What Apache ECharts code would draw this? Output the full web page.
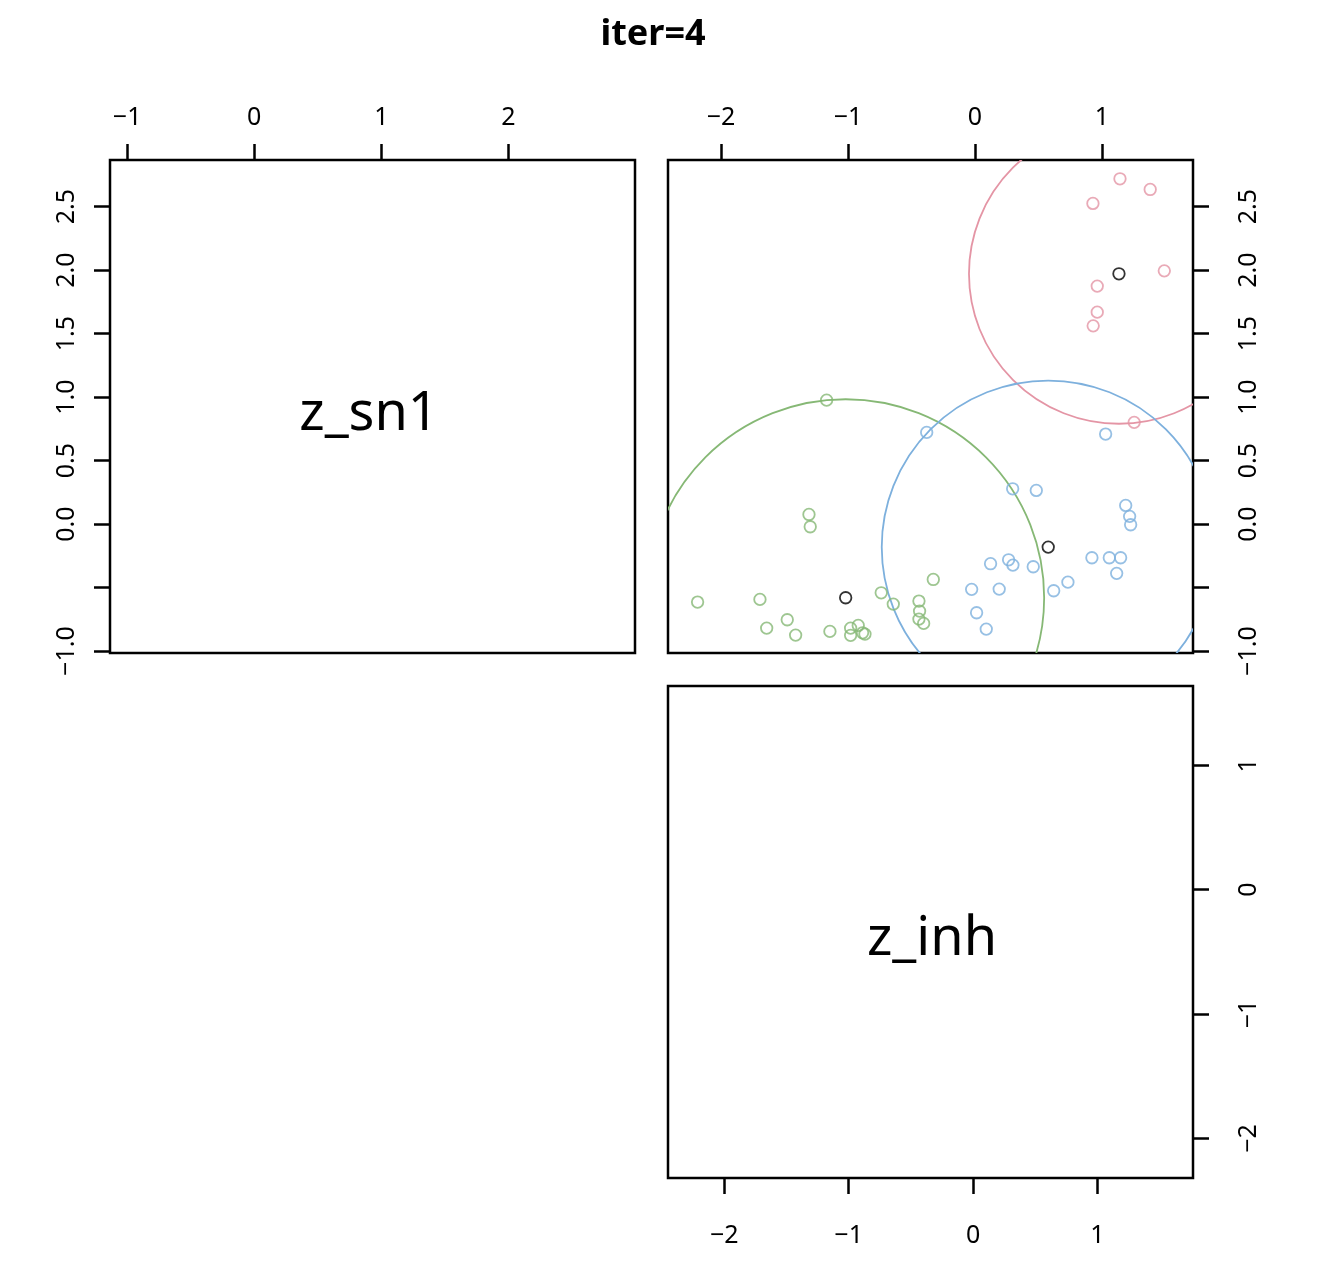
<!DOCTYPE html>
<html><head><meta charset="utf-8">
<script src="https://cdn.jsdelivr.net/npm/echarts@6/dist/echarts.min.js"></script>
<style>html,body{margin:0;padding:0;background:#fff}#c{width:1326px;height:1273px}</style>
</head><body><div id="c"></div>
<script>
const chartTitle = 'iter=4';
const varNames = ['z_sn1', 'z_inh'];

// cluster colours (pink, green, blue) and centre colour
const clusterColors = ['#E495A5', '#86B875', '#7DB0DD'];
const centerColor = '#000000';

// points: x = z_inh, y = z_sn1
const pinkX = [0.929, 1.142, 1.380, 1.491, 0.963, 0.963, 0.931, 1.254];
const pinkY = [2.525, 2.719, 2.635, 1.994, 1.874, 1.669, 1.561, 0.801];

const greenX = [-1.168, -1.307, -1.297, -2.184, -1.693, -1.478, -1.640, -1.412, -1.142, -0.979, -0.919, -0.979, -0.885, -0.866, -0.738, -0.643, -0.328, -0.441, -0.436, -0.441, -0.404];
const greenY = [0.976, 0.076, -0.021, -0.614, -0.593, -0.753, -0.819, -0.874, -0.845, -0.819, -0.798, -0.876, -0.856, -0.866, -0.541, -0.630, -0.436, -0.606, -0.685, -0.748, -0.782];

const blueX = [-0.380, 1.029, 0.297, 0.483, 1.187, 1.218, 1.226, 0.921, 1.058, 1.147, 1.116, 0.123, 0.265, 0.299, 0.459, -0.026, 0.191, 0.620, 0.732, 0.013, 0.089];
const blueY = [0.722, 0.709, 0.278, 0.265, 0.147, 0.061, -0.005, -0.265, -0.265, -0.265, -0.388, -0.312, -0.281, -0.323, -0.336, -0.514, -0.512, -0.525, -0.457, -0.698, -0.827];

// cluster centres (pink, green, blue) and circle radii
const centerX = [1.134, -1.018, 0.577];
const centerY = [1.971, -0.580, -0.181];
const circleR = [1.181, 1.563, 1.311];

// tick values and labels
const sn1XTicks = [-1, 0, 1, 2];
const sn1XLabels = ['\u22121', '0', '1', '2'];
const sn1YTicks = [-1.0, -0.5, 0.0, 0.5, 1.0, 1.5, 2.0, 2.5];
const sn1YLabels = ['\u22121.0', '', '0.0', '0.5', '1.0', '1.5', '2.0', '2.5'];
const inhTicks = [-2, -1, 0, 1];
const inhLabels = ['\u22122', '\u22121', '0', '1'];

const FONT = 'Noto Sans';
function fmt(ticks, labels) {
  return function (v) {
    for (let i = 0; i < ticks.length; i++) if (Math.abs(ticks[i] - v) < 1e-6) return labels[i];
    return '';
  };
}
function axisCommon(ticks, labels, margin, rotate) {
  return {
    type: 'value',
    axisLine: { show: false, onZero: false },
    splitLine: { show: false },
    axisTick: { show: true, inside: false, length: 16, customValues: ticks, lineStyle: { color: '#000', width: 2.5 } },
    axisLabel: { show: true, customValues: ticks, formatter: fmt(ticks, labels), fontSize: 25, color: '#000', fontFamily: FONT, margin: margin, rotate: rotate || 0 }
  };
}

const chart = echarts.init(document.getElementById('c'), null, { renderer: 'canvas' });

const gridBase = { show: true, borderColor: '#000', borderWidth: 2.5, backgroundColor: 'transparent', containLabel: false, outerBoundsMode: 'none' };

const pair = (xs, ys) => xs.map((x, i) => [x, ys[i]]);

function scatter(xs, ys, color) {
  return {
    type: 'scatter', xAxisIndex: 1, yAxisIndex: 1,
    data: pair(xs, ys), symbol: 'circle', symbolSize: 11.5,
    itemStyle: { color: 'rgba(0,0,0,0)', borderColor: color, borderWidth: 1.8 },
    emphasis: { disabled: true }, silent: true, z: 3
  };
}

const option = {
  animation: false,
  backgroundColor: '#fff',
  grid: [
    Object.assign({ left: 110, top: 160, width: 525, height: 493 }, gridBase),
    Object.assign({ left: 668, top: 160, width: 525, height: 493 }, gridBase),
    Object.assign({ left: 668, top: 686, width: 525, height: 492 }, gridBase)
  ],
  xAxis: [
    Object.assign(axisCommon(sn1XTicks, sn1XLabels, 30), { gridIndex: 0, position: 'top', min: -1.135, max: 2.996 }),
    Object.assign(axisCommon(inhTicks, inhLabels, 30), { gridIndex: 1, position: 'top', min: -2.417, max: 1.717 }),
    Object.assign(axisCommon(inhTicks, inhLabels, 45), { gridIndex: 2, position: 'bottom', min: -2.452, max: 1.768 })
  ],
  yAxis: [
    Object.assign(axisCommon(sn1YTicks, sn1YLabels, 31, 90), { gridIndex: 0, position: 'left', min: -1.015, max: 2.867 }),
    Object.assign(axisCommon(sn1YTicks, sn1YLabels, 43, 90), { gridIndex: 1, position: 'right', min: -1.015, max: 2.867 }),
    Object.assign(axisCommon(inhTicks, inhLabels, 43, 90), { gridIndex: 2, position: 'right', min: -2.318, max: 1.637 })
  ],
  graphic: [
    { type: 'text', x: 653, y: 35, style: { text: chartTitle, font: 'bold 36px "Noto Sans"', fill: '#000', textAlign: 'center', textVerticalAlign: 'middle' } },
    { type: 'text', x: 369, y: 415, style: { text: varNames[0], font: '54px "Noto Sans"', fill: '#000', textAlign: 'center', textVerticalAlign: 'middle' } },
    { type: 'text', x: 932, y: 940, style: { text: varNames[1], font: '54px "Noto Sans"', fill: '#000', textAlign: 'center', textVerticalAlign: 'middle' } }
  ],
  series: [
    {
      type: 'custom', xAxisIndex: 1, yAxisIndex: 1, clip: true, silent: true, z: 2,
      data: centerX.map((x, i) => [x, centerY[i], circleR[i], i]),
      renderItem: function (params, api) {
        const c = api.coord([api.value(0), api.value(1)]);
        const s = api.size([api.value(2), api.value(2)]);
        const cs = params.coordSys;
        return {
          type: 'group',
          clipPath: { type: 'rect', shape: { x: cs.x, y: cs.y, width: cs.width, height: cs.height } },
          children: [{ type: 'circle', shape: { cx: c[0], cy: c[1], r: s[0] }, style: { fill: 'none', stroke: clusterColors[api.value(3)], lineWidth: 1.8 } }]
        };
      }
    },
    scatter(pinkX, pinkY, clusterColors[0]),
    scatter(greenX, greenY, clusterColors[1]),
    scatter(blueX, blueY, clusterColors[2]),
    scatter(centerX, centerY, centerColor)
  ]
};
chart.setOption(option);
</script>
</body></html>
